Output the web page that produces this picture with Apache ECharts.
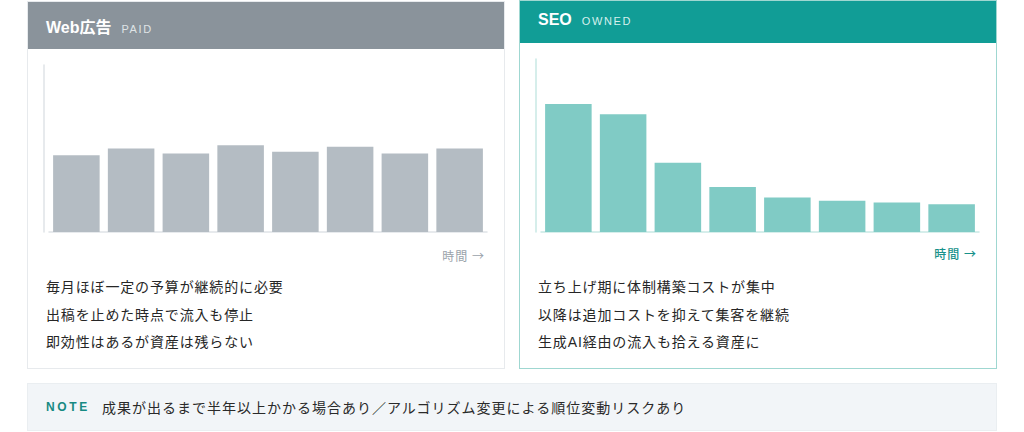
<!DOCTYPE html>
<html lang="ja">
<head>
<meta charset="UTF-8">
<title>Web広告 vs SEO</title>
<script src="https://cdn.jsdelivr.net/npm/echarts@6/dist/echarts.min.js"></script>
<style>
  html, body { margin: 0; padding: 0; background: #fff; }
  body { width: 1024px; height: 432px; position: relative; overflow: hidden;
         font-family: "Liberation Sans", "Noto Sans CJK JP", sans-serif; color: #333; }
  .card { position: absolute; box-sizing: border-box; background: #fff; }
  .card .head { position: absolute; left: 0; top: 0; right: 0; color: #fff;
                display: flex; align-items: baseline; padding-left: 18px; box-sizing: border-box; }
  .card .head b { font-size: 16px; font-weight: bold; margin-right: 10px; }
  .card .head span { font-size: 11px; letter-spacing: 1.6px; }
  .chart { position: absolute; }
  .time { position: absolute; right: 19px; font-size: 12px; letter-spacing: 1px;
          font-family: "Noto Sans CJK JP", sans-serif; }
  .points { position: absolute; left: 18px; top: 272px; margin: 0; padding: 0; list-style: none;
            font-family: "Liberation Sans", "Noto Sans CJK JP", sans-serif;
            font-size: 14px; line-height: 27.5px; letter-spacing: 0.85px; color: #262626; }
  #paid { left: 27px; top: 1px; width: 478px; height: 368px; border: 1px solid #e7eaed; }
  #paid .head { height: 47px; background: #8a939b; padding-top: 12px; }
  #paid .head span { color: #dfe3e6; }
  #paid .time { top: 245px; color: #9aa2aa; }
  #seo { left: 519px; top: 0; width: 478px; height: 369px; border: 1px solid #9fd7d1; }
  #seo .head { height: 42px; background: #119d96; padding-top: 10px; }
  #seo .head span { color: #d6f0ed; }
  #seo .time { top: 244px; color: #17918a; font-weight: 500; }
  #seo .points { top: 273px; }
  .note { position: absolute; left: 27px; top: 383px; width: 970px; height: 48px; box-sizing: border-box;
          background: #f2f5f8; border: 1px solid #eaeef1; }
  .note b { position: absolute; left: 18px; top: 16px; font-size: 12px; letter-spacing: 2.6px;
            color: #178a83; font-family: "Liberation Sans", sans-serif; }
  .note span { position: absolute; left: 74px; top: 13px; font-size: 14px; letter-spacing: 1px;
               color: #2a2a2a; font-family: "Noto Sans CJK JP", sans-serif; line-height: 20px; }
</style>
</head>
<body>

<div class="card" id="paid">
  <div class="head"><b>Web広告</b><span>PAID</span></div>
  <div class="time">時間 →</div>
  <ul class="points">
    <li>毎月ほぼ一定の予算が継続的に必要</li>
    <li>出稿を止めた時点で流入も停止</li>
    <li>即効性はあるが資産は残らない</li>
  </ul>
</div>

<div class="card" id="seo">
  <div class="head"><b>SEO</b><span>OWNED</span></div>
  <div class="time">時間 →</div>
  <ul class="points">
    <li>立ち上げ期に体制構築コストが集中</li>
    <li>以降は追加コストを抑えて集客を継続</li>
    <li>生成AI経由の流入も拾える資産に</li>
  </ul>
</div>

<div class="note"><b>NOTE</b><span>成果が出るまで半年以上かかる場合あり／アルゴリズム変更による順位変動リスクあり</span></div>

<div class="chart" id="paidChart" style="left:27px;top:48px;width:478px;height:192px;"></div>
<div class="chart" id="seoChart" style="left:519px;top:42px;width:478px;height:198px;"></div>

<script type="text/javascript">
  // 期間（ラベルは非表示）
  var periods = ['1', '2', '3', '4', '5', '6', '7', '8'];
  // Web広告：毎月ほぼ一定のコスト
  var paidValues = [46, 50, 47, 52, 48, 51, 47, 50];
  // SEO：立ち上げ期に集中し、その後は低く推移
  var seoValues = [74, 68, 40, 26, 20, 18, 17, 16];
  var yMax = 100;

  function makeOption(values, barColor, axisColor) {
    return {
      animation: false,
      grid: { left: 22, right: 18, top: 17, bottom: 8 },
      xAxis: {
        type: 'category',
        data: periods,
        axisLine: { show: true, lineStyle: { color: axisColor, width: 1.5 } },
        axisTick: { show: false },
        axisLabel: { show: false }
      },
      yAxis: {
        type: 'value',
        min: 0,
        max: yMax,
        offset: 5,
        axisLine: { show: true, lineStyle: { color: axisColor, width: 1.5 } },
        axisTick: { show: false },
        axisLabel: { show: false },
        splitLine: { show: false }
      },
      series: [{
        type: 'bar',
        data: values,
        barCategoryGap: '15%',
        itemStyle: { color: barColor },
        silent: true
      }]
    };
  }

  var paidChart = echarts.init(document.getElementById('paidChart'));
  paidChart.setOption(makeOption(paidValues, '#b4bcc3', '#dfe3e7'));

  var seoChart = echarts.init(document.getElementById('seoChart'));
  seoChart.setOption(makeOption(seoValues, '#80cbc5', '#c9e9e5'));
</script>

</body>
</html>
